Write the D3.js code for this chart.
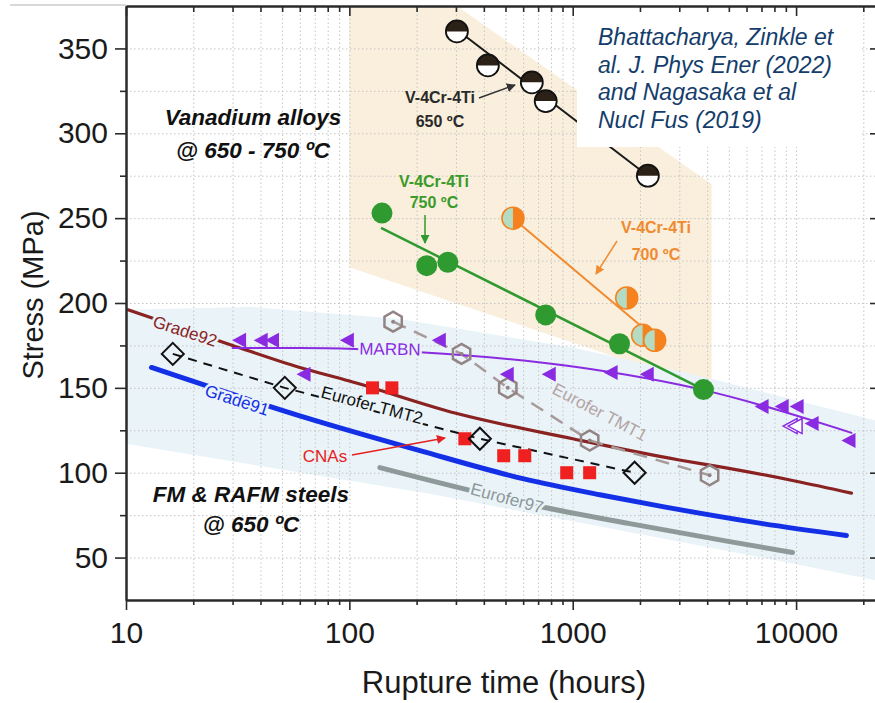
<!DOCTYPE html>
<html>
<head>
<meta charset="utf-8">
<script src="https://cdn.jsdelivr.net/npm/d3@7"></script>
<style>
  body { margin: 0; background: #fff; }
  svg { display: block; font-family: "Liberation Sans", Arial, sans-serif; }
</style>
</head>
<body>
<div id="chart"></div>
<script>
//** axis ticks
const xMajor = [10, 100, 1000, 10000];
const xMinor = [20,30,40,50,60,70,80,90, 200,300,400,500,600,700,800,900,
                2000,3000,4000,5000,6000,7000,8000,9000, 20000];
const yMajor = [50, 100, 150, 200, 250, 300, 350];
const yMinor = [75, 125, 175, 225, 275, 325];

//** background regions [hours, MPa]
const vanadiumRegion = [[100,375],[303,375],[4190,270],[4190,149],[100,221]];
const steelUpper = [[10,196],[36,197.6],[168,190.6],[1021,173.5],[3700,157],[24000,130]];
const steelLower = [[10,117],[229,87.6],[10050,46],[24000,36]];

//** vanadium alloys
const v650 = [[303,360],[417,340],[656,330],[757,319],[2170,275]];
const v650Fit = [[303,361],[2170,275]];
const v750 = [[140,253],[222,222],[276,224],[757,193],[1620,176],[3850,149]];
const v750Fit = [[140,244],[3850,149]];
const v700 = [[540,250],[1745,203],[2056,181],[2328,178]];
const v700Fit = [[540,250],[2170,183]];

//** steels
const grade92 = [[10.2,196],[30,175],[60,162],[100,154],[300,135],[1000,120],[3000,107.5],[4790,103],[10000,95],[17700,88]];
const grade91 = [[13,162],[60,133.5],[207,113],[598,96.5],[1321,87],[2530,80],[7080,70],[16800,63]];
const eurofer97 = [[137,103],[750,79.5],[1800,70],[5040,59.4],[9640,53]];
const marbnCurve = [[30,173.5],[60,173.5],[207,171],[1021,162.4],[3820,148.8],[17700,123.5]];
const marbnPts = [[32.4,178],[40.5,178],[45.5,178],[63,158],[98.5,178],[254,178],[512,158],[789,158],
                  [1493,159],[2168,158],[7080,139],[8710,139],[10160,139],[11860,129],[17340,119]];
const marbnOpen = [[9500,127.5],[10000,127.5]];
const tmt2 = [[16.2,170],[51.4,150],[384,120],[1893,100]];
const tmt1 = [[157,189],[318,170],[512,150],[1191,119],[4100,98.5]];
const cnas = [[127,150],[155,150],[329,120],[491,110],[610,110],[940,100],[1191,100]];

const W = 875, H = 703;
const margins = { left: 126, top: 6, right: -6, bottom: 103 };

const svg = d3.select('#chart').append('svg').attr('width', W).attr('height', H);

const x = d3.scaleLog().domain([10, 24000]).range([margins.left, W - margins.right]);
const y = d3.scaleLinear().domain([25, 375]).range([H - margins.bottom, margins.top]);
const px = d => x(d[0]), py = d => y(d[1]);

svg.append('clipPath').attr('id', 'plot')
  .append('rect').attr('x', x(10)).attr('y', y(375)).attr('width', x(24000) - x(10)).attr('height', y(25) - y(375));

const gBack = svg.append('g').attr('clip-path', 'url(#plot)');

//** background regions
gBack.append('path')
  .attr('d', d3.line().x(px).y(py).curve(d3.curveLinearClosed)(vanadiumRegion))
  .attr('fill', '#f9efdc');
gBack.append('path')
  .attr('d', d3.line().x(px).y(py).curve(d3.curveLinearClosed)(steelUpper.concat(steelLower.slice().reverse())))
  .attr('fill', '#e9f3f8');

//** grid
const gridStyle = g => g.call(s => s.select('.domain').remove())
  .selectAll('line').attr('stroke', '#c4c4c4').attr('stroke-width', 1).attr('stroke-dasharray', '1.5,2.5');
gBack.append('g').attr('transform', 'translate(0,' + y(25) + ')')
  .call(d3.axisBottom(x).tickValues(xMajor.concat(xMinor)).tickSize(-(y(25) - y(375))).tickFormat(''))
  .call(gridStyle);
gBack.append('g').attr('transform', 'translate(' + x(10) + ',0)')
  .call(d3.axisLeft(y).tickValues(yMajor.concat(yMinor)).tickSize(-(x(24000) - x(10))).tickFormat(''))
  .call(gridStyle);

const gData = svg.append('g').attr('clip-path', 'url(#plot)');

//** arrow markers
const defs = svg.append('defs');
function arrowMarker(id, color) {
  defs.append('marker').attr('id', id)
    .attr('viewBox', '0 0 10 10').attr('refX', 9).attr('refY', 5)
    .attr('markerWidth', 9).attr('markerHeight', 9).attr('markerUnits', 'userSpaceOnUse')
    .attr('orient', 'auto')
    .append('path').attr('d', 'M0,0 L10,5 L0,10 Z').attr('fill', color);
}
arrowMarker('arrBlack', '#333');
arrowMarker('arrGreen', '#2f9a2f');
arrowMarker('arrOrange', '#f28a30');
arrowMarker('arrRed', '#e52222');

function drawLine(data, color, width, dash, curve) {
  return gData.append('path')
    .attr('d', d3.line().x(px).y(py).curve(curve || d3.curveLinear)(data))
    .attr('fill', 'none').attr('stroke', color).attr('stroke-width', width)
    .attr('stroke-dasharray', dash || null).attr('stroke-linecap', dash ? 'butt' : 'round');
}

//** steel curves
drawLine(eurofer97, '#8e9a9a', 5, null, d3.curveMonotoneX);
drawLine(grade91, '#1430e6', 5, null, d3.curveMonotoneX);
drawLine(grade92, '#8a2222', 3.2, null, d3.curveMonotoneX);
drawLine(tmt1, '#a89a9a', 2.5, '14,9');
drawLine(tmt2, '#111', 2, '9,7');
drawLine(marbnCurve, '#8a2be2', 2, null, d3.curveMonotoneX);

//** vanadium fit lines
drawLine(v650Fit, '#1a1a1a', 2);
drawLine(v750Fit, '#2f9a2f', 2.5);
drawLine(v700Fit, '#f28a30', 2);

//** markers
gData.selectAll('.cna').data(cnas).enter().append('rect')
  .attr('x', d => px(d) - 6.5).attr('y', d => py(d) - 6.5).attr('width', 13).attr('height', 13)
  .attr('fill', '#ee2020');

gData.selectAll('.tmt2').data(tmt2).enter().append('path')
  .attr('transform', d => 'translate(' + px(d) + ',' + py(d) + ')')
  .attr('d', 'M0,-11 L11,0 L0,11 L-11,0 Z')
  .attr('fill', 'none').attr('stroke', '#111').attr('stroke-width', 2);

const hexPts = d3.range(6).map(k => {
  const a = Math.PI / 2 + k * Math.PI / 3;
  return [10 * Math.cos(a), 10 * Math.sin(a)];
});
const gHex = gData.selectAll('.tmt1').data(tmt1).enter().append('g')
  .attr('transform', d => 'translate(' + px(d) + ',' + py(d) + ')');
gHex.append('path').attr('d', 'M' + hexPts.join('L') + 'Z')
  .attr('fill', 'none').attr('stroke', '#938484').attr('stroke-width', 2.5);
gHex.append('circle').attr('r', 2).attr('fill', '#938484');

const triPath = 'M-8,0 L6,-7.5 L6,7.5 Z';
gData.selectAll('.marbn').data(marbnPts).enter().append('path')
  .attr('transform', d => 'translate(' + px(d) + ',' + py(d) + ')')
  .attr('d', triPath).attr('fill', '#8a2be2');
gData.selectAll('.marbnOpen').data(marbnOpen).enter().append('path')
  .attr('transform', d => 'translate(' + px(d) + ',' + py(d) + ')')
  .attr('d', triPath).attr('fill', '#fff').attr('stroke', '#8a2be2').attr('stroke-width', 1.5);

gData.selectAll('.v750').data(v750).enter().append('circle')
  .attr('cx', px).attr('cy', py).attr('r', 10.5).attr('fill', '#2f9a2f');

const r = 11;
const g700 = gData.selectAll('.v700').data(v700).enter().append('g')
  .attr('transform', d => 'translate(' + px(d) + ',' + py(d) + ')');
g700.append('circle').attr('r', r).attr('fill', '#f5821f');
g700.append('path').attr('d', 'M0,' + (-r) + ' A' + r + ',' + r + ' 0 0 0 0,' + r + ' Z').attr('fill', '#b4dcc2');
g700.append('circle').attr('r', r).attr('fill', 'none').attr('stroke', '#f5821f').attr('stroke-width', 1.5);

const g650 = gData.selectAll('.v650').data(v650).enter().append('g')
  .attr('transform', d => 'translate(' + px(d) + ',' + py(d) + ')');
g650.append('circle').attr('r', r).attr('fill', '#fff');
g650.append('path').attr('d', 'M' + (-r) + ',0 A' + r + ',' + r + ' 0 0 1 ' + r + ',0 Z').attr('fill', '#2b2116');
g650.append('circle').attr('r', r).attr('fill', 'none').attr('stroke', '#111').attr('stroke-width', 1.8);

//** labels along the curves
function lineLabel(txt, cx, cy, angle, color, halo) {
  gData.append('text')
    .attr('transform', 'translate(' + cx + ',' + cy + ') rotate(' + angle + ')')
    .attr('text-anchor', 'middle').attr('dy', '0.35em')
    .attr('font-size', 17).attr('fill', color)
    .attr('stroke', halo).attr('stroke-width', 5).attr('paint-order', 'stroke')
    .text(txt);
}
lineLabel('Grade92', 185, 331, 18, '#8a2222', '#e9f3f8');
lineLabel('Grade91', 237, 400, 18, '#1430e6', '#e9f3f8');
lineLabel('Eurofer TMT2', 372, 405, 15, '#111', '#e9f3f8');
lineLabel('MARBN', 390, 349, 1, '#8a2be2', '#e9f3f8');
lineLabel('Eurofer TMT1', 600, 412, 28, '#b4a4a4', '#e9f3f8');
lineLabel('Eurofer97', 507, 498, 15, '#8c9898', '#e9f3f8');

svg.append('text').attr('x', 325).attr('y', 462).attr('text-anchor', 'middle')
  .attr('font-size', 17).attr('fill', '#e52222').text('CNAs');

//** vanadium labels and arrows
function twoLines(l1, l2, cx, y1, y2, color, size, weight, style) {
  const t = svg.append('text').attr('text-anchor', 'middle').attr('fill', color)
    .attr('font-size', size).attr('font-weight', weight).attr('font-style', style || 'normal');
  t.append('tspan').attr('x', cx).attr('y', y1).text(l1);
  t.append('tspan').attr('x', cx).attr('y', y2).text(l2);
}
twoLines('V-4Cr-4Ti', '650 ºC', 440, 103, 127, '#2a2a2a', 16, 'bold');
twoLines('V-4Cr-4Ti', '750 ºC', 434, 187, 208, '#3a9a2a', 16, 'bold');
twoLines('V-4Cr-4Ti', '700 ºC', 656, 233, 260, '#f08a30', 16, 'bold');

function arrow(x1, y1, x2, y2, color, id) {
  svg.append('line').attr('x1', x1).attr('y1', y1).attr('x2', x2).attr('y2', y2)
    .attr('stroke', color).attr('stroke-width', 1.5).attr('marker-end', 'url(#' + id + ')');
}
arrow(479, 98, 515, 85, '#333', 'arrBlack');
arrow(425, 215, 425, 243, '#2f9a2f', 'arrGreen');
arrow(617, 241, 596, 274, '#f28a30', 'arrOrange');
arrow(352, 455, 445, 438, '#e52222', 'arrRed');

twoLines('Vanadium alloys', '@ 650 - 750 ºC', 253, 125, 158, '#111', 22.5, 'bold', 'italic');
twoLines('FM & RAFM steels', '@ 650 ºC', 251, 502, 532, '#111', 22.5, 'bold', 'italic');

//** citation box
svg.append('rect').attr('x', 577).attr('y', 7).attr('width', 284).attr('height', 140).attr('fill', '#fff');
const cite = svg.append('text').attr('font-size', 23).attr('font-style', 'italic').attr('fill', '#143d6b');
['Bhattacharya, Zinkle et', 'al. J. Phys Ener (2022)', 'and Nagasaka et al', 'Nucl Fus (2019)']
  .forEach((s, i) => cite.append('tspan').attr('x', 598).attr('y', 45 + i * 27.7).text(s));

//** axes
const axisColor = '#2a2a2a';
const styleAxis = g => {
  g.select('.domain').attr('stroke', axisColor).attr('stroke-width', 2);
  g.selectAll('line').attr('stroke', axisColor).attr('stroke-width', 1.6);
  g.selectAll('text').attr('font-size', 30).attr('fill', '#1a1a1a')
    .attr('font-family', '"Liberation Sans", Arial, sans-serif');
};
svg.append('g').attr('transform', 'translate(0,' + y(25) + ')')
  .call(d3.axisBottom(x).tickValues(xMajor).tickSize(10).tickPadding(12).tickSizeOuter(0).tickFormat(d3.format('d')))
  .call(styleAxis);
svg.append('g').attr('transform', 'translate(0,' + y(25) + ')')
  .call(d3.axisBottom(x).tickValues(xMinor).tickSize(5).tickSizeOuter(0).tickFormat(''))
  .call(styleAxis);
svg.append('g').attr('transform', 'translate(0,' + y(375) + ')')
  .call(d3.axisBottom(x).tickValues(xMajor).tickSize(10).tickSizeOuter(0).tickFormat(''))
  .call(styleAxis);
svg.append('g').attr('transform', 'translate(0,' + y(375) + ')')
  .call(d3.axisBottom(x).tickValues(xMinor).tickSize(6).tickSizeOuter(0).tickFormat(''))
  .call(styleAxis);
svg.append('g').attr('transform', 'translate(' + x(10) + ',0)')
  .call(d3.axisLeft(y).tickValues(yMajor).tickSize(11).tickPadding(7).tickSizeOuter(0))
  .call(styleAxis);
svg.append('g').attr('transform', 'translate(' + x(10) + ',0)')
  .call(d3.axisLeft(y).tickValues(yMinor).tickSize(6).tickSizeOuter(0).tickFormat(''))
  .call(styleAxis);
svg.append('g').attr('transform', 'translate(' + x(24000) + ',0)')
  .call(d3.axisLeft(y).tickValues(yMajor).tickSize(11).tickSizeOuter(0).tickFormat(''))
  .call(styleAxis);

svg.append('line').attr('x1', 10).attr('x2', x(10)).attr('y1', 5).attr('y2', 5)
  .attr('stroke', '#cccccc').attr('stroke-width', 1.5);

//** axis titles
svg.append('text').attr('x', 504).attr('y', 693).attr('text-anchor', 'middle')
  .attr('font-size', 31).attr('fill', '#1a1a1a').text('Rupture time (hours)');
svg.append('text').attr('transform', 'translate(43,295) rotate(-90)').attr('text-anchor', 'middle')
  .attr('font-size', 29).attr('fill', '#1a1a1a').text('Stress (MPa)');
</script>
</body>
</html>
